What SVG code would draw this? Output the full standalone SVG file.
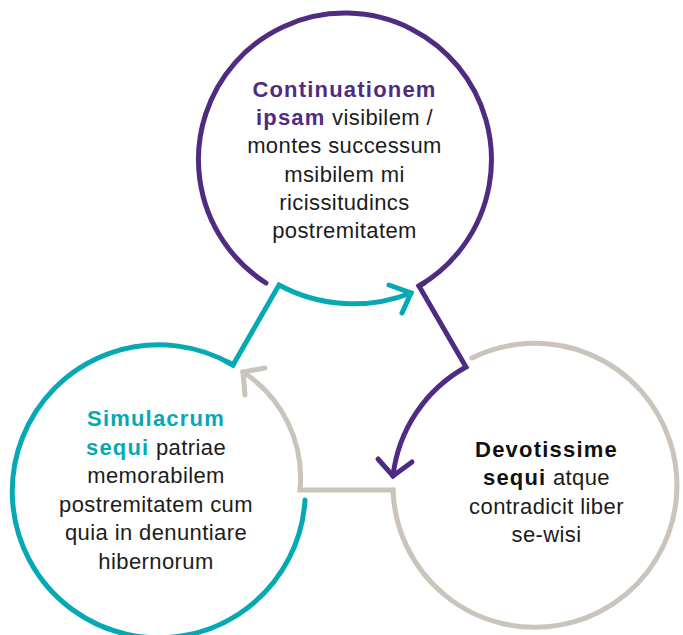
<svg xmlns="http://www.w3.org/2000/svg" width="683" height="635" viewBox="0 0 683 635">
<style>
  .ring { fill: none; stroke-width: 5; stroke-linecap: round; stroke-linejoin: miter; }
  .purple { stroke: #4f2c82; }
  .teal { stroke: #05a9b4; }
  .gray { stroke: #cac4bc; }
  .lbl { font-family: "Liberation Sans", Arial, sans-serif; font-size: 22px; fill: #1c1c1c; text-anchor: middle; letter-spacing: 0.4px; }
  .b { font-weight: bold; letter-spacing: 1.2px; }
  .bp { fill: #4f2c82; }
  .bt { fill: #05a9b4; }
  .bk { fill: #111111; }
</style>
<rect width="683" height="635" fill="#ffffff"/>

<g id="node-top">
  <path class="ring purple" d="M266,283 A146.5,146.5 0 1 1 419,286"/>
  <text class="lbl" x="344.5" y="97"><tspan class="b bp">Continuationem</tspan></text>
  <text class="lbl" x="344.5" y="125.2"><tspan class="b bp">ipsam</tspan> visibilem /</text>
  <text class="lbl" x="344.5" y="153.4">montes successum</text>
  <text class="lbl" x="344.5" y="181.6">msibilem mi</text>
  <text class="lbl" x="344.5" y="209.8">ricissitudincs</text>
  <text class="lbl" x="344.5" y="238">postremitatem</text>
</g>

<g id="node-left">
  <path class="ring teal" d="M305,500 A146.5,146.5 0 1 1 233,365"/>
  <text class="lbl" x="156" y="426"><tspan class="b bt">Simulacrum</tspan></text>
  <text class="lbl" x="156" y="454.5"><tspan class="b bt">sequi</tspan> patriae</text>
  <text class="lbl" x="156" y="483">memorabilem</text>
  <text class="lbl" x="156" y="511.5">postremitatem cum</text>
  <text class="lbl" x="156" y="540">quia in denuntiare</text>
  <text class="lbl" x="156" y="568.5">hibernorum</text>
</g>

<g id="node-right">
  <path class="ring gray" d="M472,358 A142,142 0 1 1 393,490"/>
  <text class="lbl" x="546.5" y="456.5"><tspan class="b bk">Devotissime</tspan></text>
  <text class="lbl" x="546.5" y="485"><tspan class="b bk">sequi</tspan> atque</text>
  <text class="lbl" x="546.5" y="513.5">contradicit liber</text>
  <text class="lbl" x="546.5" y="542">se-wisi</text>
</g>

<g id="connectors">
  <path class="ring teal" d="M227.8,362 L233,365 L279,285 A157,157 0 0 0 411,293"/>
  <path class="ring teal" d="M389,285 L411,293 L402,313"/>
  <path class="ring purple" d="M424.2,283 L419,286 L466,367 A143.5,143.5 0 0 0 393,476"/>
  <path class="ring purple" d="M378,459 L393,476 L412,462"/>
  <path class="ring gray" d="M393.2,496 L393,490 L300,490 A126,126 0 0 0 243,372"/>
  <path class="ring gray" d="M265,368 L243,372 L245,395"/>
</g>
</svg>
